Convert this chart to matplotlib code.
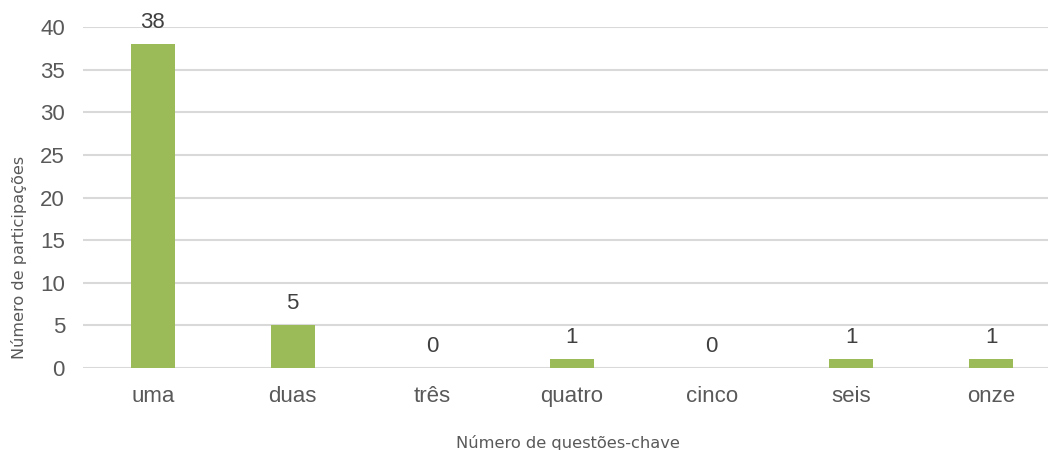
import matplotlib.pyplot as plt

categorias = ["uma", "duas", "três", "quatro", "cinco", "seis", "onze"]
participacoes = [38, 5, 0, 1, 0, 1, 1]
y_ticks = [0, 5, 10, 15, 20, 25, 30, 35, 40]

fig = plt.figure(figsize=(10.48, 4.5), dpi=100)
ax = fig.add_axes([83 / 1048, 82 / 450, 965 / 1048, 341 / 450])

pos = list(range(len(categorias)))
ax.bar(pos, participacoes, width=0.315, color="#9BBB59", zorder=3)

for x, v in zip(pos, participacoes):
    ax.annotate(str(v), (x, v), xytext=(0, 8), textcoords="offset points",
                ha="center", va="bottom", fontsize=16, color="#404040",
                family="Liberation Sans", annotation_clip=False)

ax.set_xlim(-0.5, 6.408)
ax.set_ylim(0, 40)
ax.set_yticks(y_ticks)
ax.set_xticks(pos)
ax.set_xticklabels(categorias)
ax.yaxis.grid(True, color="#D9D9D9", linewidth=1.5, zorder=0)
ax.set_axisbelow(True)
for s in ax.spines.values():
    s.set_visible(False)
ax.tick_params(axis="x", length=0, labelsize=16, labelcolor="#595959", pad=13)
ax.tick_params(axis="y", length=0, labelsize=16, labelcolor="#595959", pad=13)
for lab in ax.get_xticklabels() + ax.get_yticklabels():
    lab.set_family("Liberation Sans")

fig.text(568 / 1048, 1 - 448 / 450, "Número de questões-chave", ha="center",
         va="baseline", fontsize=11.7, color="#595959")
fig.text(19 / 1048, 1 - 257 / 450, "Número de participações", ha="center",
         va="center", rotation=90, fontsize=11.6, color="#595959")

fig.savefig("out.png", dpi=100)
